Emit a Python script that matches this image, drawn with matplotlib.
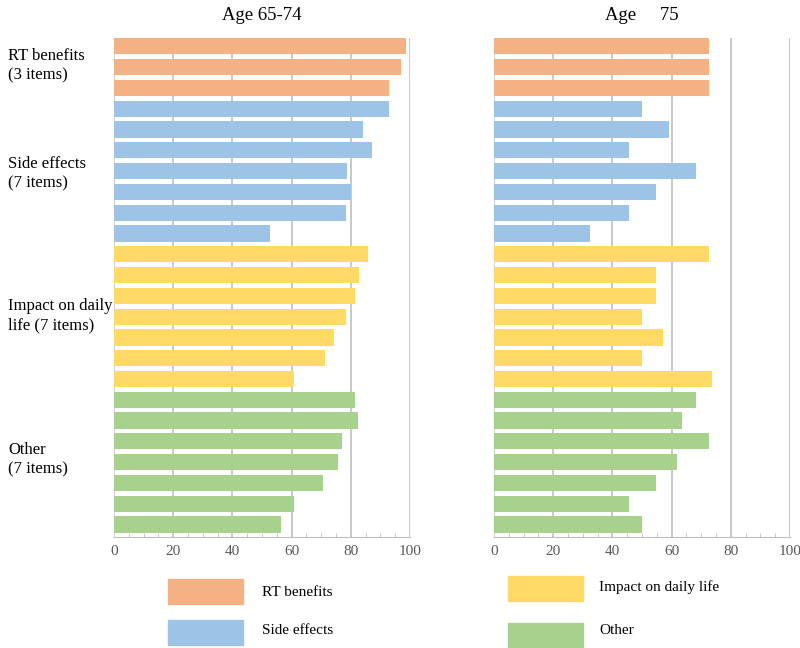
## Horizontal bar panels: agreement by item group, two age bands
import numpy as np
import matplotlib.pyplot as plt
from matplotlib.patches import Rectangle

## Data
groups = ["RT benefits", "Side effects", "Impact on daily life", "Other"]
group_sizes = [3, 7, 7, 7]
group_labels = ["RT benefits\n(3 items)", "Side effects\n(7 items)",
                "Impact on daily\nlife (7 items)", "Other\n(7 items)"]
colors = ["#F4B183", "#9DC3E6", "#FFD966", "#A9D18E"]

titles = ["Age 65-74", "Age     75"]
age_65_74 = [98.5, 97.0, 92.9,
             92.8, 84.2, 87.0, 78.6, 80.0, 78.3, 52.7,
             85.7, 82.9, 81.3, 78.3, 74.2, 71.4, 60.8,
             81.4, 82.5, 77.0, 75.7, 70.5, 60.8, 56.4]
age_75 = [72.7, 72.7, 72.7,
          50.1, 59.2, 45.6, 68.2, 54.6, 45.6, 32.5,
          72.7, 54.6, 54.6, 50.1, 57.2, 50.1, 73.6,
          68.2, 63.6, 72.7, 61.9, 54.6, 45.6, 50.1]
xticks = [0, 20, 40, 60, 80, 100]

plt.rcParams['font.family'] = ['Liberation Serif', 'DejaVu Serif']

bar_colors = np.repeat(colors, group_sizes)
y = np.arange(len(age_65_74))

fig = plt.figure(figsize=(8, 6.48), dpi=100)
ax1 = fig.add_axes([0.1425, 0.1713, 0.37, 0.770])
ax2 = fig.add_axes([0.6175, 0.1713, 0.37, 0.770])

for ax, vals, title in zip([ax1, ax2], [age_65_74, age_75], titles):
    ax.barh(y, vals, height=0.78, color=bar_colors, zorder=3)
    ax.set_xlim(0, 100)
    ax.set_ylim(23.6, -0.4)
    ax.set_xticks(xticks)
    ax.set_xticks(np.arange(0, 101, 5), minor=True)
    ax.set_yticks([])
    ax.grid(axis='x', color='#bfbfbf', linewidth=1.2, zorder=0)
    for s in ['top', 'right']:
        ax.spines[s].set_visible(False)
    ax.spines['bottom'].set_color('#bfbfbf')
    ax.spines['left'].set_color('#d0d0d0')
    ax.tick_params(axis='x', which='major', length=0, labelsize=11,
                   labelcolor='#595959', pad=6)
    ax.tick_params(axis='x', which='minor', length=3, direction='in',
                   color='#bfbfbf')
    ax.set_title(title, fontsize=13.5, pad=13)

## Group labels in the left margin
label_y = [66, 174, 316, 460]
for lab, yy in zip(group_labels, label_y):
    fig.text(8 / 800, 1 - yy / 648, lab, ha='left', va='center',
             fontsize=12, linespacing=1.3)

## Legend drawn as boxes below the panels
leg_pos = [(168, 579, 262, 592), (168, 620, 262, 630),
           (508, 576, 599, 587), (508, 623, 599, 631)]
for name, col, (rx, ry, tx, ty) in zip(groups, colors, leg_pos):
    fig.add_artist(Rectangle((rx / 800, 1 - (ry + 25) / 648), 75 / 800, 25 / 648,
                             transform=fig.transFigure, color=col))
    fig.text(tx / 800, 1 - ty / 648, name, ha='left', va='center', fontsize=11)

plt.savefig("out.png", dpi=100)
